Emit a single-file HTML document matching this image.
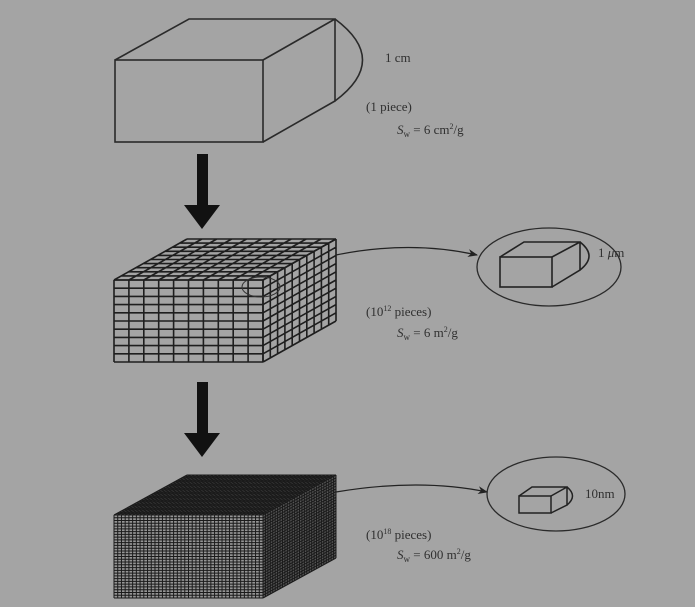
<!DOCTYPE html>
<html><head><meta charset="utf-8"><style>
html,body{margin:0;padding:0;background:#a4a4a4;}
svg{display:block}
text{font-family:"Liberation Serif",serif;fill:#303030;font-size:13px;font-weight:normal}
</style></head><body>
<svg id="s" width="695" height="607" viewBox="0 0 695 607" xmlns="http://www.w3.org/2000/svg">
<rect width="695" height="607" fill="#a4a4a4"/>
<defs><marker id="ah" markerWidth="10" markerHeight="8" refX="9" refY="4" orient="auto" markerUnits="userSpaceOnUse"><path d="M0,0 L10,4 L0,8 L3,4 Z" fill="#222"/></marker></defs>
<!-- cube 1 -->
<g fill="none" stroke="#2a2a2a" stroke-width="1.6">
<rect x="115" y="60" width="148" height="82"/>
<path d="M115,60 L189,19 L335,19 L335,101 L263,142 M263,60 L335,19"/>
<path d="M335,19 Q390,60 335,101"/>
</g>
<text x="385" y="62">1 cm</text>
<text x="366" y="111">(1 piece)</text>
<text x="397" y="134"><tspan font-style="italic">S</tspan><tspan font-size="9" dy="3">w</tspan><tspan dy="-3"> = 6 cm</tspan><tspan font-size="8" dy="-5">2</tspan><tspan dy="5">/g</tspan></text>
<!-- arrows -->
<path d="M197,154 H208 V205 H220 L202,229 L184,205 H197 Z" fill="#111"/>
<path d="M197,382 H208 V433 H220 L202,457 L184,433 H197 Z" fill="#111"/>
<g id="g2" stroke="#1e1e1e" stroke-width="1.6" fill="none"></g>
<g id="g3" stroke="#1a1a1a" stroke-width="1" fill="none"></g>
<!-- connectors -->
<path d="M336,255 Q410,240 477,255" fill="none" stroke="#222" stroke-width="1.2" marker-end="url(#ah)"/>
<ellipse cx="261" cy="287" rx="19" ry="10" fill="none" stroke="#333" stroke-width="1"/>
<path d="M336,492 Q420,478 487,492" fill="none" stroke="#222" stroke-width="1.2" marker-end="url(#ah)"/>
<!-- ellipse 2 -->
<ellipse cx="549" cy="267" rx="72" ry="39" fill="none" stroke="#2a2a2a" stroke-width="1.3"/>
<g fill="none" stroke="#222" stroke-width="1.6">
<rect x="500" y="257" width="52" height="30"/>
<path d="M500,257 L524,242 L580,242 L580,270 L552,287 M552,257 L580,242"/>
<path d="M580,242 Q598,256 580,270"/>
</g>
<text x="598" y="257">1 <tspan font-style="italic">μ</tspan>m</text>
<text x="366" y="316">(10<tspan font-size="8" dy="-5">12</tspan><tspan dy="5"> pieces)</tspan></text>
<text x="397" y="337"><tspan font-style="italic">S</tspan><tspan font-size="9" dy="3">w</tspan><tspan dy="-3"> = 6 m</tspan><tspan font-size="8" dy="-5">2</tspan><tspan dy="5">/g</tspan></text>
<!-- ellipse 3 -->
<ellipse cx="556" cy="494" rx="69" ry="37" fill="none" stroke="#2a2a2a" stroke-width="1.3"/>
<g fill="none" stroke="#222" stroke-width="1.5">
<rect x="519" y="496" width="32" height="17"/>
<path d="M519,496 L532,487 L567,487 L567,505 L551,513 M551,496 L567,487"/>
<path d="M567,487 Q578,496 567,505"/>
</g>
<text x="585" y="498">10nm</text>
<text x="366" y="539">(10<tspan font-size="8" dy="-5">18</tspan><tspan dy="5"> pieces)</tspan></text>
<text x="397" y="559"><tspan font-style="italic">S</tspan><tspan font-size="9" dy="3">w</tspan><tspan dy="-3"> = 600 m</tspan><tspan font-size="8" dy="-5">2</tspan><tspan dy="5">/g</tspan></text>
</svg>
<script>
function face(g,O,U,V,nu,nv,fill){
 var ns="http://www.w3.org/2000/svg";
 if(fill){var p=document.createElementNS(ns,"path");
  p.setAttribute("d","M"+O[0]+","+O[1]+" l"+U[0]+","+U[1]+" l"+V[0]+","+V[1]+" l"+(-U[0])+","+(-U[1])+"Z");
  p.setAttribute("fill",fill);p.setAttribute("stroke","none");g.appendChild(p);}
 var d="";
 for(var i=0;i<=nu;i++){var x=O[0]+U[0]*i/nu,y=O[1]+U[1]*i/nu;d+="M"+x.toFixed(2)+","+y.toFixed(2)+" l"+V[0]+","+V[1]+" ";}
 for(var j=0;j<=nv;j++){var x=O[0]+V[0]*j/nv,y=O[1]+V[1]*j/nv;d+="M"+x.toFixed(2)+","+y.toFixed(2)+" l"+U[0]+","+U[1]+" ";}
 var l=document.createElementNS(ns,"path");l.setAttribute("d",d);g.appendChild(l);
}
var g2=document.getElementById("g2"),g3=document.getElementById("g3");
face(g2,[114,280],[149,0],[0,82],10,10);
face(g2,[114,280],[149,0],[73,-41],10,10);
face(g2,[263,280],[73,-41],[0,82],10,10);
face(g3,[114,515],[149,0],[0,83],40,30,"#959595");
face(g3,[114,515],[149,0],[73,-40],40,30,"#555555");
face(g3,[263,515],[73,-40],[0,83],30,30,"#555555");
</script>
</body></html>
